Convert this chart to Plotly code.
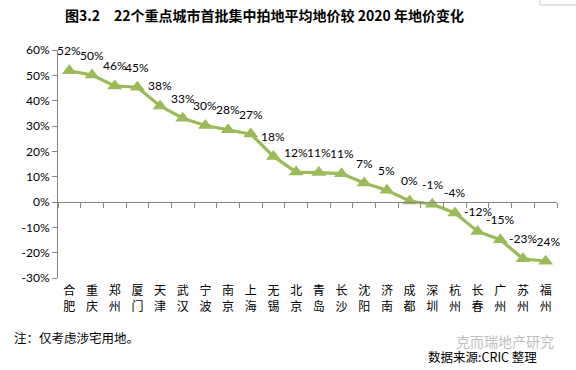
import plotly.graph_objects as go

cities = ["合肥", "重庆", "郑州", "厦门", "天津", "武汉", "宁波", "南京", "上海", "无锡", "北京",
          "青岛", "长沙", "沈阳", "济南", "成都", "深圳", "杭州", "长春", "广州", "苏州", "福州"]
changes = [0.518, 0.501, 0.458, 0.453, 0.379, 0.331, 0.302, 0.285, 0.268, 0.180, 0.118,
           0.116, 0.112, 0.075, 0.046, 0.004, -0.009, -0.043, -0.116, -0.149, -0.224, -0.234]
labels = ["52%", "50%", "46%", "45%", "38%", "33%", "30%", "28%", "27%", "18%", "12%",
          "11%", "11%", "7%", "5%", "0%", "-1%", "-4%", "-12%", "-15%", "-23%", "-24%"]
y_tick_vals = [-0.3, -0.2, -0.1, 0.0, 0.1, 0.2, 0.3, 0.4, 0.5, 0.6]
y_tick_text = ["-30%", "-20%", "-10%", "0%", "10%", "20%", "30%", "40%", "50%", "60%"]

title_text = "图3.2　22个重点城市首批集中拍地平均地价较 2020 年地价变化"
note_text = "注：仅考虑涉宅用地。"
source_text = "数据来源:CRIC 整理"
watermark_text = "克而瑞地产研究"

GREEN = "#9BBB59"
AXIS = "#868686"
NUM_FONT = "Lato, 'Liberation Sans', sans-serif"
CJK_FONT = "'Noto Sans CJK SC', sans-serif"

fig = go.Figure()

# invisible helper trace for the zero-crossing category axis
fig.add_trace(go.Scatter(
    x=[-0.5, len(cities) - 0.5], y=[0, 0], xaxis="x2", yaxis="y",
    mode="lines", line=dict(width=0), opacity=0, hoverinfo="skip", showlegend=False,
))

fig.add_trace(go.Scatter(
    x=cities, y=changes, mode="lines+markers",
    line=dict(color=GREEN, width=3.2),
    marker=dict(symbol="triangle-up", size=13, color=GREEN),
    showlegend=False, hoverinfo="skip",
))

annotations = []
for c, v, t in zip(cities, changes, labels):
    annotations.append(dict(
        x=c, y=v, xref="x", yref="y", text=t, showarrow=False, yshift=20,
        font=dict(family=NUM_FONT, size=12, color="#000000"),
    ))

annotations += [
    dict(x=264, y=15, text=f"<b>{title_text}</b>", showarrow=False,
         font=dict(family=CJK_FONT, size=14, color="#000000")),
    dict(x=12, y=337, text=note_text, showarrow=False, xanchor="left",
         font=dict(family=CJK_FONT, size=12.5, color="#000000")),
    dict(x=556, y=341, text=watermark_text, showarrow=False, xanchor="right",
         font=dict(family=CJK_FONT, size=14, color="#c0c0c0")),
    dict(x=539, y=356, text=source_text, showarrow=False, xanchor="right",
         font=dict(family=CJK_FONT, size=12.5, color="#000000")),
]

# convert pixel-positioned page annotations to paper coordinates
L, R, T, B, W, H = 58, 19, 50, 92, 576, 370
pw, ph = W - L - R, H - T - B
for a in annotations[len(cities):]:
    a["xref"] = "paper"
    a["yref"] = "paper"
    a["x"] = (a["x"] - L) / pw
    a["y"] = (H - B - a["y"]) / ph
    a["yanchor"] = "middle"

fig.update_layout(
    width=W, height=H,
    margin=dict(l=L, r=R, t=T, b=B),
    paper_bgcolor="white", plot_bgcolor="white",
    annotations=annotations,
    xaxis=dict(
        type="category", range=[-0.5, len(cities) - 0.5],
        tickvals=cities, ticktext=["<br>".join(list(c)) for c in cities],
        showline=False, showgrid=False, zeroline=False, ticks="",
        ticklabelstandoff=4,
        tickfont=dict(family=CJK_FONT, size=12, color="#000000"),
    ),
    xaxis2=dict(
        overlaying="x", anchor="free", position=(0 - y_tick_vals[0]) / (y_tick_vals[-1] - y_tick_vals[0]),
        side="bottom", range=[-0.5, len(cities) - 0.5],
        tickmode="linear", tick0=-0.5, dtick=1,
        ticks="outside", ticklen=5, tickcolor=AXIS, tickwidth=1,
        showline=True, linecolor=AXIS, linewidth=1,
        showticklabels=False, showgrid=False, zeroline=False,
    ),
    yaxis=dict(
        range=[y_tick_vals[0], y_tick_vals[-1]],
        tickvals=y_tick_vals, ticktext=y_tick_text,
        ticks="outside", ticklen=5, tickcolor=AXIS,
        showline=True, linecolor=AXIS, linewidth=1,
        showgrid=False, zeroline=False,
        tickfont=dict(family=NUM_FONT, size=12, color="#000000"),
    ),
    shapes=[dict(type="rect", xref="paper", yref="paper",
                 x0=(540 - L) / pw, x1=(580 - L) / pw,
                 y0=(H - B - 5) / ph, y1=(H - B + 10) / ph,
                 line=dict(color="#c8c8c8", width=1), fillcolor="rgba(0,0,0,0)")],
)

fig.write_html(
    "out.html",
    config={"displayModeBar": False, "staticPlot": True},
    post_script="document.body.style.margin='0';document.body.style.overflow='hidden';",
)
